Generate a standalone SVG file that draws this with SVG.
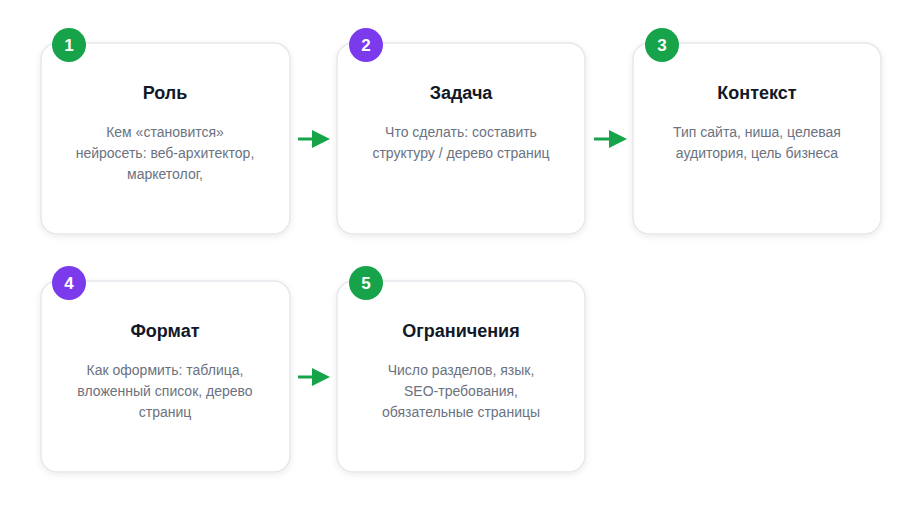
<svg xmlns="http://www.w3.org/2000/svg" width="922" height="516" viewBox="0 0 922 516">
<style>
.card{fill:#fff;stroke:#e5e7eb;stroke-width:1.5}
.title{font-family:"Liberation Sans",Arial,sans-serif;font-size:18px;font-weight:bold;fill:#111827;text-anchor:middle}
.desc{font-family:"Liberation Sans",Arial,sans-serif;font-size:14px;fill:#6b7280;text-anchor:middle}
.num{font-family:"Liberation Sans",Arial,sans-serif;font-size:17px;font-weight:bold;fill:#fff;text-anchor:middle}
.conn{stroke:#16a34a;stroke-width:3;fill:none}
</style>
<defs>
<filter id="sh" x="-10%" y="-10%" width="120%" height="130%">
<feDropShadow dx="0" dy="2" stdDeviation="3" flood-color="#000" flood-opacity="0.08"/>
</filter>
</defs>
<rect width="922" height="516" fill="#fff"/>
<g id="connectors">
<line class="conn" x1="298" y1="139" x2="312" y2="139"/>
<path d="M312,130 L330,139 L312,148 z" fill="#16a34a"/>
<line class="conn" x1="594" y1="139" x2="609" y2="139"/>
<path d="M609,130 L627,139 L609,148 z" fill="#16a34a"/>
<line class="conn" x1="298" y1="377" x2="312" y2="377"/>
<path d="M312,368 L330,377 L312,386 z" fill="#16a34a"/>
</g>
<g id="node1">
<rect class="card" x="41" y="43" width="249" height="191" rx="16" filter="url(#sh)"/>
<circle cx="69" cy="45" r="17" fill="#16a34a"/>
<text class="num" x="69" y="51">1</text>
<text class="title" x="165" y="99">Роль</text>
<text class="desc" x="165" y="137">Кем «становится»</text>
<text class="desc" x="165" y="158">нейросеть: веб-архитектор,</text>
<text class="desc" x="165" y="179">маркетолог,</text>
</g>
<g id="node2">
<rect class="card" x="337" y="43" width="248" height="191" rx="16" filter="url(#sh)"/>
<circle cx="366" cy="45" r="17" fill="#7c3aed"/>
<text class="num" x="366" y="51">2</text>
<text class="title" x="461" y="99">Задача</text>
<text class="desc" x="461" y="137">Что сделать: составить</text>
<text class="desc" x="461" y="158">структуру / дерево страниц</text>
</g>
<g id="node3">
<rect class="card" x="633" y="43" width="248" height="191" rx="16" filter="url(#sh)"/>
<circle cx="662" cy="45" r="17" fill="#16a34a"/>
<text class="num" x="662" y="51">3</text>
<text class="title" x="757" y="99">Контекст</text>
<text class="desc" x="757" y="137">Тип сайта, ниша, целевая</text>
<text class="desc" x="757" y="158">аудитория, цель бизнеса</text>
</g>
<g id="node4">
<rect class="card" x="41" y="281" width="249" height="191" rx="16" filter="url(#sh)"/>
<circle cx="69" cy="283" r="17" fill="#7c3aed"/>
<text class="num" x="69" y="289">4</text>
<text class="title" x="165" y="337">Формат</text>
<text class="desc" x="165" y="375">Как оформить: таблица,</text>
<text class="desc" x="165" y="396">вложенный список, дерево</text>
<text class="desc" x="165" y="417">страниц</text>
</g>
<g id="node5">
<rect class="card" x="337" y="281" width="248" height="191" rx="16" filter="url(#sh)"/>
<circle cx="366" cy="283" r="17" fill="#16a34a"/>
<text class="num" x="366" y="289">5</text>
<text class="title" x="461" y="337">Ограничения</text>
<text class="desc" x="461" y="375">Число разделов, язык,</text>
<text class="desc" x="461" y="396">SEO-требования,</text>
<text class="desc" x="461" y="417">обязательные страницы</text>
</g>
</svg>
